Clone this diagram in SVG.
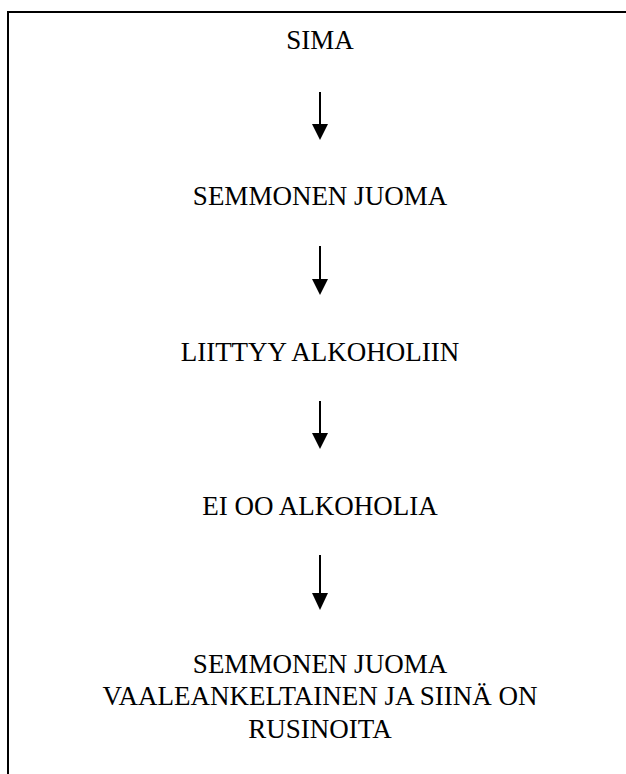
<svg xmlns="http://www.w3.org/2000/svg" width="626" height="774" viewBox="0 0 626 774">
  <style>
    .lbl { font-family: "Liberation Serif", "DejaVu Serif", serif; font-size: 27px; fill: #000; text-anchor: middle; }
    .frame { fill: none; stroke: #000; stroke-width: 2; }
    .link { stroke: #000; stroke-width: 2; fill: none; }
    .head { fill: #000; }
  </style>
  <rect width="626" height="774" fill="#fff"/>
  <!-- outer frame, open beyond the page edges -->
  <path class="frame" d="M 8 790 V 12 H 640"/>

  <g id="n-sima"><text class="lbl" x="320" y="49">SIMA</text></g>
  <g id="n-juoma"><text class="lbl" x="320" y="205">SEMMONEN JUOMA</text></g>
  <g id="n-liittyy"><text class="lbl" x="320" y="361">LIITTYY ALKOHOLIIN</text></g>
  <g id="n-ei"><text class="lbl" x="320" y="515">EI OO ALKOHOLIA</text></g>
  <g id="n-kuvaus">
    <text class="lbl" x="320" y="673">SEMMONEN JUOMA</text>
    <text class="lbl" x="320" y="705">VAALEANKELTAINEN JA SIINÄ ON</text>
    <text class="lbl" x="320" y="738">RUSINOITA</text>
  </g>

  <g id="connectors">
    <line class="link" x1="320" y1="92" x2="320" y2="126"/>
    <polygon class="head" points="312,124 328,124 320,140"/>
    <line class="link" x1="320" y1="246" x2="320" y2="281"/>
    <polygon class="head" points="312,279 328,279 320,295"/>
    <line class="link" x1="320" y1="401" x2="320" y2="435"/>
    <polygon class="head" points="312,433 328,433 320,449"/>
    <line class="link" x1="320" y1="555" x2="320" y2="595"/>
    <polygon class="head" points="312,593 328,593 320,610"/>
  </g>
</svg>
